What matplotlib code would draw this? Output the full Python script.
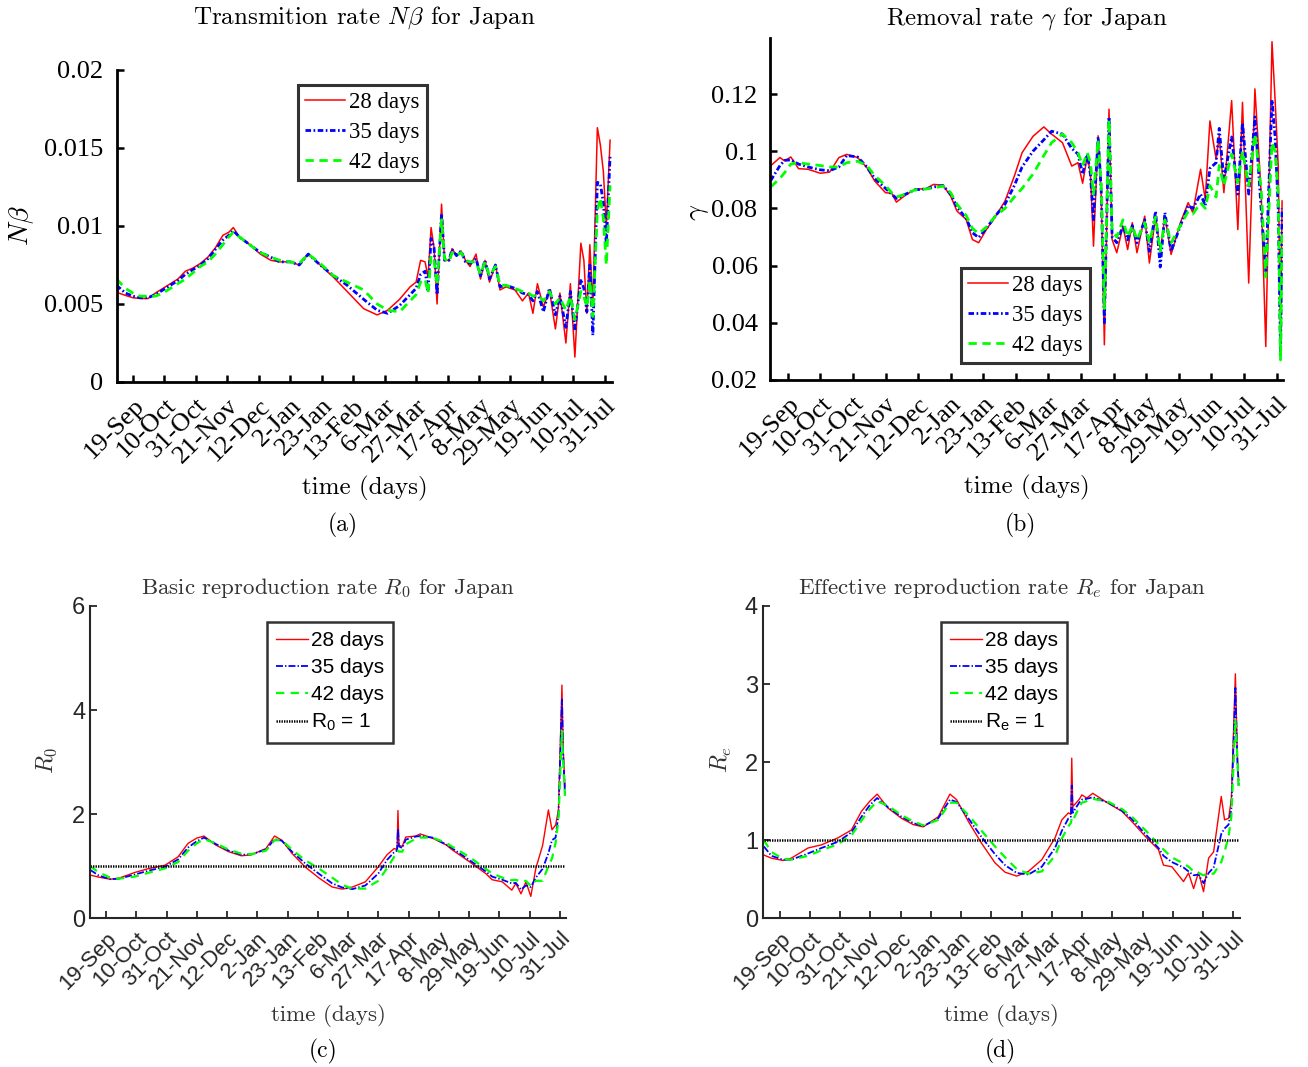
import numpy as np
import pandas as pd
import matplotlib
matplotlib.use('Agg')
import matplotlib.pyplot as plt

plt.rcParams['mathtext.fontset'] = 'cm'
plt.rcParams['lines.scale_dashes'] = False

# days counted from 19-Sep-2020
start = pd.Timestamp('2020-09-19')
tick_dates = pd.date_range(start, periods=16, freq='21D')
tick_labels = [f'{d.day}-{d.strftime("%b")}' for d in tick_dates]

# ---------------- (a) transmission rate N*beta ----------------
days_a = [-11, -5, 0, 5, 10, 15, 20, 25, 30, 35,
          40, 45, 50, 55, 60, 64, 67, 71, 78, 85,
          92, 98, 105, 111, 117, 125, 134, 143, 154, 163,
          170, 178, 185, 189, 192, 195, 197, 199, 201, 203,
          206, 208, 211, 213, 216, 219, 222, 225, 229, 232,
          235, 238, 242, 245, 249, 255, 260, 264, 267, 270,
          274, 278, 282, 285, 289, 292, 295, 299, 301, 303,
          305, 307, 310, 312, 314, 316, 318.5]
nb_28 = [0.00575, 0.00555, 0.0054, 0.00535, 0.00535, 0.0057, 0.0060, 0.0063, 0.0066, 0.0071,
         0.0073, 0.0076, 0.0080, 0.0086, 0.0094, 0.0096, 0.0099, 0.0093, 0.0088, 0.0082,
         0.0078, 0.0077, 0.0077, 0.0075, 0.0082, 0.0075, 0.0067, 0.0058, 0.0047, 0.0043,
         0.0046, 0.0053, 0.0061, 0.0064, 0.0078, 0.0077, 0.0067, 0.0099, 0.0086, 0.0050,
         0.0114, 0.0078, 0.0078, 0.00855, 0.0081, 0.0084, 0.0078, 0.0074, 0.0082, 0.0066,
         0.0078, 0.0064, 0.0075, 0.0059, 0.0061, 0.0059, 0.0052, 0.0057, 0.0044, 0.0063,
         0.0048, 0.0059, 0.0034, 0.0057, 0.0025, 0.0063, 0.0016, 0.0089, 0.0078, 0.0044,
         0.0088, 0.0048, 0.0163, 0.0152, 0.0135, 0.0100, 0.0155]
nb_35 = [0.0062, 0.0057, 0.0055, 0.0054, 0.0054, 0.0056, 0.0059, 0.0062, 0.0065, 0.0069,
         0.0072, 0.0075, 0.0079, 0.0085, 0.0091, 0.0094, 0.0097, 0.0093, 0.0088, 0.0083,
         0.0080, 0.0077, 0.0077, 0.0075, 0.0082, 0.0075, 0.0068, 0.0062, 0.0053, 0.0046,
         0.0044, 0.0049, 0.0056, 0.0060, 0.0069, 0.0071, 0.0058, 0.0092, 0.0086, 0.0056,
         0.0108, 0.0078, 0.0078, 0.0085, 0.0081, 0.0084, 0.0077, 0.0076, 0.0079, 0.0068,
         0.0078, 0.0066, 0.0075, 0.0061, 0.0062, 0.0060, 0.0057, 0.0056, 0.0052, 0.0058,
         0.0045, 0.0060, 0.0043, 0.0055, 0.0035, 0.0058, 0.0034, 0.0066, 0.0060, 0.0045,
         0.0075, 0.0030, 0.0128, 0.0127, 0.0115, 0.0088, 0.0145]
nb_42 = [0.0066, 0.0060, 0.0057, 0.0055, 0.0055, 0.0055, 0.0057, 0.0060, 0.0063, 0.0066,
         0.0070, 0.0074, 0.0077, 0.0082, 0.0088, 0.0093, 0.0096, 0.0093, 0.0088, 0.0083,
         0.0080, 0.0078, 0.0077, 0.0076, 0.0082, 0.0076, 0.0068, 0.0064, 0.0059, 0.0050,
         0.0046, 0.0045, 0.0052, 0.0056, 0.0064, 0.0066, 0.0057, 0.0081, 0.0078, 0.0062,
         0.0104, 0.0079, 0.0077, 0.0083, 0.0081, 0.0083, 0.0078, 0.0077, 0.0077, 0.0069,
         0.0077, 0.0068, 0.0074, 0.0062, 0.0062, 0.0060, 0.0058, 0.0057, 0.0055, 0.0056,
         0.0052, 0.0058, 0.0050, 0.0054, 0.0046, 0.0055, 0.0040, 0.0058, 0.0055, 0.0048,
         0.0065, 0.0042, 0.0110, 0.0118, 0.0105, 0.0075, 0.0126]

# ---------------- (b) removal rate gamma ----------------
days_b = [-11, -5, -2, 2, 7, 13, 21, 27, 33, 38,
          45, 51, 56, 63, 67, 70, 76, 82, 89, 94,
          100, 105, 109, 115, 119, 123, 128, 134, 140, 146,
          151, 158, 165, 170, 177, 183, 187, 190, 193, 195,
          197, 200, 202, 204, 207, 209, 212, 216, 219, 222,
          225, 230, 233, 237, 240, 243, 247, 253, 258, 261,
          266, 269, 272, 276, 278, 281, 286, 290, 293, 297,
          301, 305, 308, 312, 314, 316, 317.5, 318.5]
gam_28 = [0.0949, 0.0978, 0.0966, 0.0980, 0.0939, 0.0937, 0.0923, 0.0927, 0.0978, 0.0989,
          0.0978, 0.0943, 0.0896, 0.0855, 0.0853, 0.0822, 0.0847, 0.0867, 0.0869, 0.0884,
          0.0881, 0.0843, 0.0791, 0.0761, 0.0691, 0.0680, 0.0726, 0.0773, 0.0826, 0.0913,
          0.0995, 0.1052, 0.1085, 0.1060, 0.1030, 0.0948, 0.0960, 0.0888, 0.0983, 0.0925,
          0.0668, 0.1054, 0.0841, 0.0323, 0.1147, 0.0691, 0.0645, 0.0738, 0.0656, 0.0750,
          0.0645, 0.0773, 0.0609, 0.0773, 0.0650, 0.0773, 0.0639, 0.0750, 0.0820, 0.0785,
          0.0937, 0.0832, 0.1106, 0.0972, 0.1054, 0.0855, 0.1177, 0.0726, 0.1171, 0.0539,
          0.1218, 0.0855, 0.0317, 0.1383, 0.1180, 0.0950, 0.0350, 0.0826]
gam_35 = [0.0897, 0.0950, 0.0968, 0.0970, 0.0955, 0.0945, 0.0935, 0.0932, 0.0945, 0.0985,
          0.0980, 0.0945, 0.0905, 0.0870, 0.0850, 0.0835, 0.0850, 0.0865, 0.0868, 0.0875,
          0.0880, 0.0850, 0.0805, 0.0765, 0.0715, 0.0698, 0.0730, 0.0775, 0.0815, 0.0880,
          0.0945, 0.1000, 0.1040, 0.1070, 0.1060, 0.1010, 0.0990, 0.0920, 0.0990, 0.0920,
          0.0760, 0.1050, 0.0860, 0.0400, 0.1120, 0.0700, 0.0680, 0.0740, 0.0690, 0.0740,
          0.0680, 0.0760, 0.0650, 0.0790, 0.0595, 0.0785, 0.0650, 0.0740, 0.0810, 0.0800,
          0.0850, 0.0810, 0.0940, 0.0960, 0.1080, 0.0900, 0.1050, 0.0850, 0.1100, 0.0850,
          0.1120, 0.0800, 0.0580, 0.1180, 0.1050, 0.0800, 0.0280, 0.0800]
gam_42 = [0.0875, 0.0905, 0.0925, 0.0955, 0.0960, 0.0955, 0.0950, 0.0945, 0.0945, 0.0960,
          0.0965, 0.0950, 0.0915, 0.0880, 0.0855, 0.0840, 0.0850, 0.0865, 0.0868, 0.0872,
          0.0878, 0.0855, 0.0815, 0.0775, 0.0730, 0.0712, 0.0735, 0.0775, 0.0800, 0.0840,
          0.0870, 0.0920, 0.0985, 0.1030, 0.1060, 0.1030, 0.0995, 0.0950, 0.0995, 0.0960,
          0.0850, 0.1040, 0.0880, 0.0450, 0.1110, 0.0720, 0.0700, 0.0760, 0.0700, 0.0740,
          0.0690, 0.0750, 0.0680, 0.0770, 0.0650, 0.0760, 0.0680, 0.0740, 0.0790, 0.0780,
          0.0820, 0.0800, 0.0880, 0.0840, 0.0950, 0.0880, 0.0990, 0.0890, 0.1000, 0.0880,
          0.1060, 0.0870, 0.0560, 0.1030, 0.1000, 0.0850, 0.0270, 0.0720]

# ---------------- (c) basic reproduction rate R0 ----------------
days_c = [-11, -5, 3, 9, 20, 29, 41, 50, 57, 63,
          68, 76, 85, 94, 101, 111, 117, 122, 129, 138,
          148, 157, 164, 171, 180, 189, 195, 200, 202, 202.6,
          203.3, 205.6, 208, 215, 218, 226.5, 236, 240, 252, 263.5,
          268, 275, 281.6, 284.4, 288, 291.4, 294.8, 298.3, 303, 307,
          309.5, 312, 314, 316.4, 317.3, 318.5]
r0_28 = [0.83, 0.79, 0.75, 0.77, 0.88, 0.95, 1.02, 1.18, 1.44, 1.54,
         1.58, 1.41, 1.28, 1.20, 1.22, 1.34, 1.58, 1.50, 1.25, 0.99,
         0.77, 0.60, 0.56, 0.60, 0.70, 0.99, 1.22, 1.34, 1.32, 2.07,
         1.40, 1.38, 1.56, 1.58, 1.62, 1.54, 1.41, 1.32, 1.09, 0.86,
         0.74, 0.70, 0.54, 0.67, 0.47, 0.70, 0.42, 0.96, 1.40, 2.08,
         1.70, 1.79, 2.08, 4.48, 3.23, 2.53]
r0_35 = [0.93, 0.82, 0.75, 0.76, 0.84, 0.91, 0.99, 1.13, 1.36, 1.48,
         1.55, 1.43, 1.30, 1.22, 1.23, 1.32, 1.52, 1.49, 1.28, 1.06,
         0.85, 0.67, 0.59, 0.56, 0.63, 0.86, 1.12, 1.27, 1.30, 1.72,
         1.38, 1.35, 1.51, 1.57, 1.58, 1.55, 1.42, 1.35, 1.12, 0.90,
         0.80, 0.74, 0.67, 0.68, 0.55, 0.63, 0.60, 0.78, 0.95, 1.25,
         1.50, 1.55, 2.00, 4.20, 3.10, 2.40]
r0_42 = [1.00, 0.88, 0.78, 0.76, 0.80, 0.87, 0.96, 1.08, 1.30, 1.44,
         1.52, 1.44, 1.32, 1.24, 1.23, 1.30, 1.50, 1.50, 1.32, 1.12,
         0.95, 0.78, 0.64, 0.57, 0.57, 0.72, 0.96, 1.18, 1.22, 1.30,
         1.28, 1.28, 1.42, 1.53, 1.55, 1.55, 1.45, 1.38, 1.18, 0.95,
         0.86, 0.78, 0.73, 0.74, 0.70, 0.72, 0.62, 0.72, 0.72, 1.00,
         1.15, 1.45, 1.90, 3.60, 3.00, 2.35]

# ---------------- (d) effective reproduction rate Re ----------------
days_d = [-11, -5.8, 2.3, 8.1, 19.7, 29, 40.5, 49.8, 56.8, 62.6,
          67.7, 75.3, 84.6, 92.7, 99.7, 110.1, 118.2, 122.8, 131, 140.2,
          149.5, 156.5, 164.6, 172.7, 182, 191.2, 195.9, 200.5, 202.2, 202.8,
          203.5, 207.9, 209.8, 213.2, 217.4, 228.3, 237.6, 244.5, 253.8, 263,
          266.5, 272.3, 280.4, 283.9, 287.4, 290.8, 294.3, 297.8, 301.3, 306.6,
          308.9, 311.7, 313.6, 316.4, 317.8, 318.7]
re_28 = [0.81, 0.77, 0.74, 0.77, 0.90, 0.94, 1.03, 1.13, 1.37, 1.50,
         1.59, 1.41, 1.28, 1.20, 1.17, 1.30, 1.59, 1.52, 1.24, 0.96,
         0.71, 0.59, 0.54, 0.60, 0.75, 1.03, 1.26, 1.35, 1.33, 2.05,
         1.43, 1.52, 1.58, 1.54, 1.60, 1.47, 1.37, 1.24, 1.05, 0.88,
         0.68, 0.66, 0.47, 0.58, 0.38, 0.59, 0.34, 0.77, 0.85, 1.56,
         1.26, 1.28, 1.52, 3.13, 2.07, 1.77]
re_35 = [0.92, 0.80, 0.75, 0.75, 0.83, 0.90, 0.98, 1.10, 1.30, 1.45,
         1.54, 1.42, 1.30, 1.22, 1.18, 1.28, 1.52, 1.49, 1.28, 1.04,
         0.82, 0.68, 0.58, 0.56, 0.66, 0.90, 1.12, 1.28, 1.30, 1.70,
         1.35, 1.48, 1.52, 1.53, 1.55, 1.48, 1.38, 1.27, 1.08, 0.90,
         0.80, 0.72, 0.65, 0.60, 0.55, 0.56, 0.45, 0.58, 0.65, 1.08,
         1.15, 1.20, 1.40, 2.95, 2.00, 1.70]
re_42 = [1.00, 0.85, 0.76, 0.75, 0.80, 0.87, 0.95, 1.06, 1.25, 1.40,
         1.50, 1.44, 1.32, 1.24, 1.19, 1.26, 1.48, 1.48, 1.32, 1.12,
         0.92, 0.78, 0.63, 0.57, 0.60, 0.80, 1.02, 1.18, 1.22, 1.28,
         1.25, 1.42, 1.48, 1.50, 1.53, 1.49, 1.40, 1.30, 1.13, 0.95,
         0.88, 0.78, 0.70, 0.66, 0.60, 0.58, 0.55, 0.58, 0.57, 0.72,
         0.85, 1.05, 1.30, 2.55, 2.05, 1.65]

labels = ['28 days', '35 days', '42 days']


def to_dates(days):
    return start + pd.to_timedelta(np.asarray(days, dtype=float), unit='D')


def time_axis(ax, x0, x1, font, size, pad):
    ax.set_xlim(to_dates([x0])[0], to_dates([x1])[0])
    ax.set_xticks(tick_dates)
    ax.set_xticklabels(tick_labels, rotation=45, ha='right', va='top',
                       rotation_mode='anchor', family=font, fontsize=size)
    ax.tick_params(axis='x', pad=pad)
    for s in ['top', 'right']:
        ax.spines[s].set_visible(False)


fig = plt.figure(figsize=(13.08, 10.67), dpi=100)

serif = 'Liberation Serif'
sans = 'Liberation Sans'
cm = 'cmr10'

# ----- panel (a) -----
ax = fig.add_axes([0.0894, 0.642, 0.3784, 0.2924])
d = to_dates(days_a)
ax.plot(d, nb_28, color='red', lw=1.1, label=labels[0])
ax.plot(d, nb_35, color='blue', lw=2.0, dashes=(4, 1.8, 1.2, 1.8), label=labels[1])
ax.plot(d, nb_42, color='#00ff00', lw=2.0, dashes=(6, 4), label=labels[2])
time_axis(ax, -10.7, 319.7, serif, 19, 9)
ax.set_ylim(0, 0.02)
ax.set_yticks([0, 0.005, 0.01, 0.015, 0.02])
ax.set_yticklabels(['0', '0.005', '0.01', '0.015', '0.02'], family=serif, fontsize=19)
ax.tick_params(direction='in', length=5, width=1.8)
ax.tick_params(axis='y', pad=10)
for s in ['left', 'bottom']:
    ax.spines[s].set_linewidth(2)
ax.set_title(r'Transmition rate $N\beta$ for Japan', family=cm, fontsize=18, y=1.167, pad=0, va='center')
ax.set_xlabel('time (days)', family=cm, fontsize=18, va='center')
ax.xaxis.set_label_coords(0.5, -0.34)
ax.set_ylabel(r'$N\beta$', fontsize=20, va='center')
ax.yaxis.set_label_coords(-0.192, 0.5)
leg = ax.legend(loc='upper left', bbox_to_anchor=(0.2278, 0.9203), bbox_transform=fig.transFigure,
                prop={'family': serif, 'size': 16.4}, frameon=True, fancybox=False,
                borderpad=0.3, labelspacing=0.4, handlelength=1.75, handletextpad=0.2, borderaxespad=0)
leg.get_frame().set_edgecolor('black')
leg.get_frame().set_linewidth(2.2)
fig.text(343 / 1308, 1 - 525 / 1067, '(a)', family=cm, fontsize=17, ha='center', va='center')

# ----- panel (b) -----
ax = fig.add_axes([0.5887, 0.6439, 0.3922, 0.3202])
d = to_dates(days_b)
ax.plot(d, gam_28, color='red', lw=1.1, label=labels[0])
ax.plot(d, gam_35, color='blue', lw=2.0, dashes=(4, 1.8, 1.2, 1.8), label=labels[1])
ax.plot(d, gam_42, color='#00ff00', lw=2.0, dashes=(6, 4), label=labels[2])
time_axis(ax, -11.4, 319.1, serif, 19, 9)
ax.set_ylim(0.02, 0.1395)
ax.set_yticks([0.02, 0.04, 0.06, 0.08, 0.1, 0.12])
ax.set_yticklabels(['0.02', '0.04', '0.06', '0.08', '0.1', '0.12'], family=serif, fontsize=19)
ax.tick_params(direction='in', length=5, width=1.8)
ax.tick_params(axis='y', pad=9)
for s in ['left', 'bottom']:
    ax.spines[s].set_linewidth(2)
ax.set_title(r'Removal rate $\gamma$ for Japan', family=cm, fontsize=18, y=1.059, pad=0, va='center')
ax.set_xlabel('time (days)', family=cm, fontsize=18, va='center')
ax.xaxis.set_label_coords(0.5, -0.316)
ax.set_ylabel(r'$\gamma$', fontsize=20, va='center')
ax.yaxis.set_label_coords(-0.142, 0.49)
leg = ax.legend(loc='upper left', bbox_to_anchor=(0.7347, 0.7488), bbox_transform=fig.transFigure,
                prop={'family': serif, 'size': 16.4}, frameon=True, fancybox=False,
                borderpad=0.3, labelspacing=0.4, handlelength=1.75, handletextpad=0.2, borderaxespad=0)
leg.get_frame().set_edgecolor('black')
leg.get_frame().set_linewidth(2.2)
fig.text(1020 / 1308, 1 - 525 / 1067, '(b)', family=cm, fontsize=17, ha='center', va='center')

# ----- panels (c) and (d) -----
lower = [
    ([0.0688, 0.1394, 0.3639, 0.2927], days_c, [r0_28, r0_35, r0_42], (-11.1, 319.2), (0, 6), [0, 2, 4, 6],
     r'Basic reproduction rate $R_0$ for Japan', r'$R_0$', r'$\mathregular{R_0}$ = 1', (0.2041, 0.4171), 323),
    ([0.5833, 0.1394, 0.3647, 0.2927], days_d, [re_28, re_35, re_42], (-11.6, 319.6), (0, 4), [0, 1, 2, 3, 4],
     r'Effective reproduction rate $R_e$ for Japan', r'$R_e$', r'$\mathregular{R_e}$ = 1', (0.7194, 0.4171), 1000),
]
for k, (rect, days, ser, xl, yl, yt, title, ylab, one_lab, leg_xy, letter_x) in enumerate(lower):
    ax = fig.add_axes(rect)
    d = to_dates(days)
    ax.plot(d, ser[0], color='red', lw=1.0, label=labels[0])
    ax.plot(d, ser[1], color='blue', lw=1.3, dashes=(5, 1.5, 1, 1.5), label=labels[1])
    ax.plot(d, ser[2], color='#00ff00', lw=1.6, dashes=(6, 4.5), label=labels[2])
    ax.plot(d, np.ones(len(days)), color='black', lw=1.8, dashes=(1, 0.8), label=one_lab)
    time_axis(ax, xl[0], xl[1], sans, 16, 7)
    ax.set_ylim(*yl)
    ax.set_yticks(yt)
    ax.set_yticklabels([str(v) for v in yt], family=sans, fontsize=17)
    ax.tick_params(direction='in', length=5, width=1.3, colors='#262626')
    for s in ['left', 'bottom']:
        ax.spines[s].set_linewidth(1.5)
        ax.spines[s].set_color('#262626')
    ax.set_title(title, family=cm, fontsize=16.5, y=1.058, pad=0, va='center', color='#333333')
    ax.set_xlabel('time (days)', family=cm, fontsize=16.5, va='center', color='#333333')
    ax.xaxis.set_label_coords(0.5, -0.31)
    ax.set_ylabel(ylab, fontsize=17, va='center', color='#333333')
    ax.yaxis.set_label_coords(-0.09 + 0.004 * k, 0.507)
    leg = ax.legend(loc='upper left', bbox_to_anchor=leg_xy, bbox_transform=fig.transFigure,
                    prop={'family': sans, 'size': 15}, frameon=True, fancybox=False,
                    borderpad=0.45, labelspacing=0.38, handlelength=1.5, handletextpad=0.15, borderaxespad=0)
    leg.get_frame().set_edgecolor('black')
    leg.get_frame().set_linewidth(1.8)
    fig.text(letter_x / 1308, 1 - 1051 / 1067, '(' + 'cd'[k] + ')', family=cm, fontsize=17,
             ha='center', va='center')

fig.savefig('out.png', dpi=100)
